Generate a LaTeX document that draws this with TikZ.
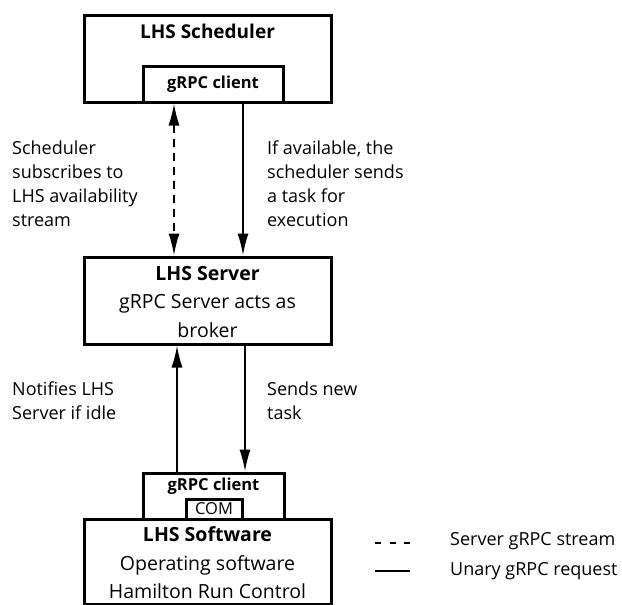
\documentclass[tikz,border=0pt]{standalone}
\usepackage{fontspec}
\setmainfont{Open Sans}
\usetikzlibrary{positioning,arrows.meta}

\tikzset{
  box/.style={draw, line width=3pt, rectangle, inner sep=0pt},
  title/.style={font=\fontsize{19}{24}\selectfont\bfseries, inner sep=0pt},
  clientlabel/.style={font=\fontsize{16.5}{20}\selectfont\bfseries, inner sep=0pt},
  note/.style={font=\fontsize{18}{24}\selectfont, align=left, inner sep=0pt, anchor=north west},
  body/.style={font=\fontsize{19.5}{28.5}\selectfont, align=center, inner sep=0pt},
  request/.style={line width=1.6pt, -{Latex[length=22pt,width=11pt]}},
  stream/.style={line width=1.6pt, dash pattern=on 8pt off 6pt,
    {Latex[length=22pt,width=11pt]}-{Latex[length=22pt,width=11pt]}},
}

\begin{document}
\begin{tikzpicture}[x=1pt, y=-1pt]
  \useasboundingbox (0,0) rectangle (622,605);

  % scheduler
  \node[box, minimum width=247pt, minimum height=87pt] (sched) at (207.5,58.5) {};
  \node[title] (schedtitle) at (207.5,31) {LHS Scheduler};
  \node[box, fill=white, minimum width=140pt, minimum height=36pt] (schedclient) at (213,84) {};
  \node[clientlabel] at (schedclient) {gRPC client};

  % server
  \node[box, minimum width=247pt, minimum height=87pt] (server) at (207.5,300.5) {};
  \node[body] (servertext) at (207.5,302) {\textbf{LHS Server}\\gRPC Server acts as\\broker};

  % software
  \node[box, minimum width=141pt, minimum height=46pt] (swclient) at (213.5,496) {};
  \node[clientlabel] at (213.5,486) {gRPC client};
  \node[box, minimum width=247pt, minimum height=85pt] (software) at (207.5,561.5) {};
  \node[box, fill=white, font=\fontsize{16.5}{18}\selectfont,
    minimum width=56pt, minimum height=20pt] (com) at (214,509) {COM};
  \node[body, anchor=north] (swtext) at (207.5,526.5) {\textbf{LHS Software}\\Operating software\\Hamilton Run Control};

  % connectors
  \draw[stream] ([xshift=-39pt]schedclient.south) -- ([xshift=-33.5pt]server.north);
  \draw[request] ([xshift=30pt]schedclient.south) -- ([xshift=35.5pt]server.north);
  \draw[request] ([xshift=-36.5pt]swclient.north) -- ([xshift=-30.5pt]server.south);
  \draw[request] ([xshift=37.5pt]server.south) -- ([xshift=31.5pt]swclient.north);

  % notes
  \node[note] (subnote) at (12,141) {Scheduler\\subscribes to\\LHS availability\\stream};
  \node[note] (tasknote) at (267,141) {If available, the\\scheduler sends\\a task for\\execution};
  \node[note] (idlenote) at (12,382) {Notifies LHS\\Server if idle};
  \node[note] (newnote) at (267,382) {Sends new\\task};

  % legend
  \coordinate (streamA) at (375,543);
  \coordinate (streamB) at (410,543);
  \coordinate (requestA) at (375,571);
  \coordinate (requestB) at (410,571);
  \draw[line width=1.6pt, dash pattern=on 6pt off 8.5pt] (streamA) -- (streamB);
  \draw[line width=1.6pt] (requestA) -- (requestB);
  \node[note, anchor=west] (streamlabel) at (450,541) {Server gRPC stream};
  \node[note, anchor=west] (requestlabel) at (450,571) {Unary gRPC request};
\end{tikzpicture}
\end{document}
